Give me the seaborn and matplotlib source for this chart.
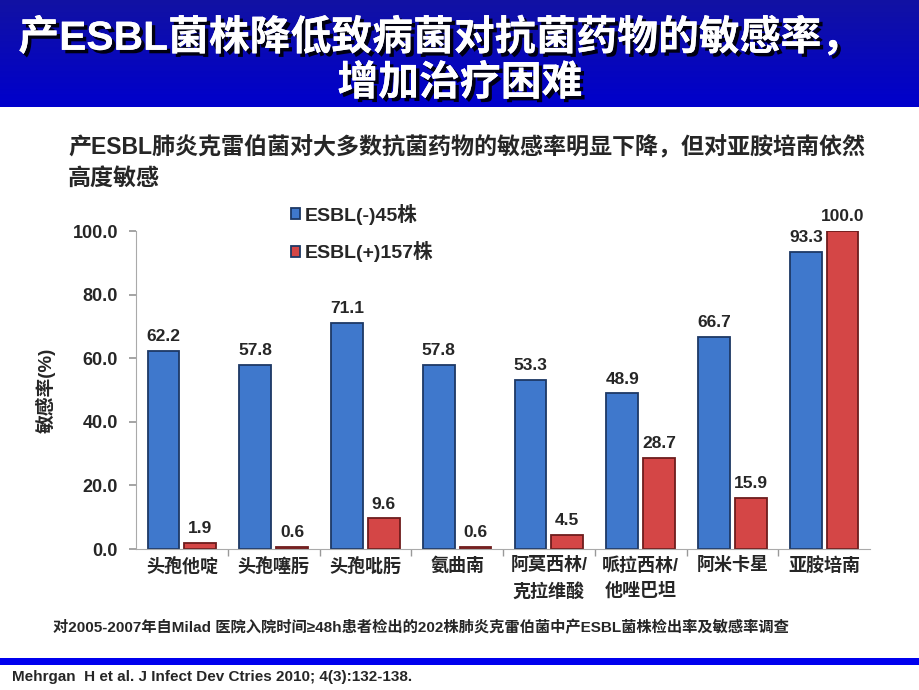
import numpy as np
import pandas as pd
import seaborn as sns
import matplotlib.pyplot as plt
import matplotlib.patheffects as pe

sns.set_theme()
sns.set_style('white')
plt.rcParams['font.family'] = ['Liberation Sans', 'Noto Sans CJK SC', 'DejaVu Sans']
plt.rcParams['font.weight'] = 'bold'

drugs = ['头孢他啶', '头孢噻肟', '头孢吡肟', '氨曲南', '阿莫西林/\n克拉维酸',
         '哌拉西林/\n他唑巴坦', '阿米卡星', '亚胺培南']
esbl_neg = [62.2, 57.8, 71.1, 57.8, 53.3, 48.9, 66.7, 93.3]
esbl_pos = [1.9, 0.6, 9.6, 0.6, 4.5, 28.7, 15.9, 100.0]
groups = ['ESBL(-)45株', 'ESBL(+)157株']

df = pd.DataFrame({
    'drug': drugs * 2,
    'rate': esbl_neg + esbl_pos,
    'group': [groups[0]] * len(drugs) + [groups[1]] * len(drugs),
})

fig = plt.figure(figsize=(9.2, 6.9), dpi=100)

# blue title banner with a slight vertical gradient
banner = fig.add_axes([0, 1 - 107 / 690, 1, 107 / 690])
grad = np.linspace(0, 1, 100).reshape(-1, 1)
top, bot = np.array([0.07, 0.07, 0.64]), np.array([0.0, 0.0, 0.80])
img = top + (bot - top) * grad[:, :, None]
banner.imshow(img, aspect='auto', extent=[0, 1, 0, 1])
banner.set_axis_off()
shadow = [pe.withSimplePatchShadow(offset=(2.5, -2.5), shadow_rgbFace='black', alpha=0.9), pe.Normal()]
banner.text(0.479, 0.65, '产ESBL菌株降低致病菌对抗菌药物的敏感率，', color='white', fontsize=29.4,
            ha='center', va='center', fontweight='bold', path_effects=shadow)
banner.text(0.5, 0.22, '增加治疗困难', color='white', fontsize=29.4,
            ha='center', va='center', fontweight='bold', path_effects=shadow)

fig.text(68 / 920, 1 - 148 / 690, '产ESBL肺炎克雷伯菌对大多数抗菌药物的敏感率明显下降，但对亚胺培南依然',
         fontsize=16.6, va='center', ha='left')
fig.text(68 / 920, 1 - 178 / 690, '高度敏感', fontsize=16.6, va='center', ha='left')

ax = fig.add_axes([136 / 920, 1 - 549 / 690, (870 - 136) / 920, (549 - 231) / 690])
sns.barplot(data=df, x='drug', y='rate', hue='group', ax=ax,
            palette=['#3f78cc', '#d44646'], saturation=1, width=0.8, gap=0.14,
            edgecolor='#1d3865', linewidth=1.3, legend=True)
for bar in ax.patches[len(drugs):2 * len(drugs)]:
    bar.set_edgecolor('#6e1c1c')

for cont in ax.containers:
    ax.bar_label(cont, fmt='%.1f', padding=5, fontsize=12.5, fontweight='bold')

ax.set_ylim(0, 100)
ax.set_yticks(np.arange(0, 101, 20))
ax.set_yticklabels([f'{v:.1f}' for v in np.arange(0, 101, 20)], fontsize=13, fontweight='bold')
ax.set_xlim(-0.5, len(drugs) - 0.5)
ax.set_xticks(range(len(drugs)))
ax.set_xticklabels(drugs, fontsize=13, fontweight='bold', linespacing=1.6, va='top')
ax.set_xticks(np.arange(0.5, len(drugs) - 0.5, 1), minor=True)
ax.tick_params(axis='x', which='major', length=0, pad=6)
ax.tick_params(axis='x', which='minor', length=5, color='#999999', direction='out', bottom=True)
ax.tick_params(axis='y', length=5, color='#999999', direction='out', left=True, pad=8)
ax.set_xlabel('')
ax.set_ylabel('敏感率(%)', fontsize=13.5, fontweight='bold', labelpad=12)
for side in ['top', 'right']:
    ax.spines[side].set_visible(False)
for side in ['left', 'bottom']:
    ax.spines[side].set_color('#aaaaaa')
    ax.spines[side].set_linewidth(0.8)

leg = ax.legend(loc='upper left', bbox_to_anchor=(0.2, 1.11), frameon=False,
                fontsize=14, handlelength=0.5, handleheight=0.5, handletextpad=0.25,
                labelspacing=0.85, borderaxespad=0)
for t in leg.get_texts():
    t.set_fontweight('bold')

fig.text(53 / 920, 1 - 628 / 690,
         '对2005-2007年自Milad 医院入院时间≥48h患者检出的202株肺炎克雷伯菌中产ESBL菌株检出率及敏感率调查',
         fontsize=11.0, va='center', ha='left')

line_ax = fig.add_axes([0, 1 - 665 / 690, 1, 7 / 690])
line_ax.set_facecolor('#0000ee')
line_ax.set_xticks([])
line_ax.set_yticks([])
for s in line_ax.spines.values():
    s.set_visible(False)

fig.text(12 / 920, 1 - 677 / 690, 'Mehrgan  H et al. J Infect Dev Ctries 2010; 4(3):132-138.',
         fontsize=11, va='center', ha='left')

fig.savefig('out.png', dpi=100)
